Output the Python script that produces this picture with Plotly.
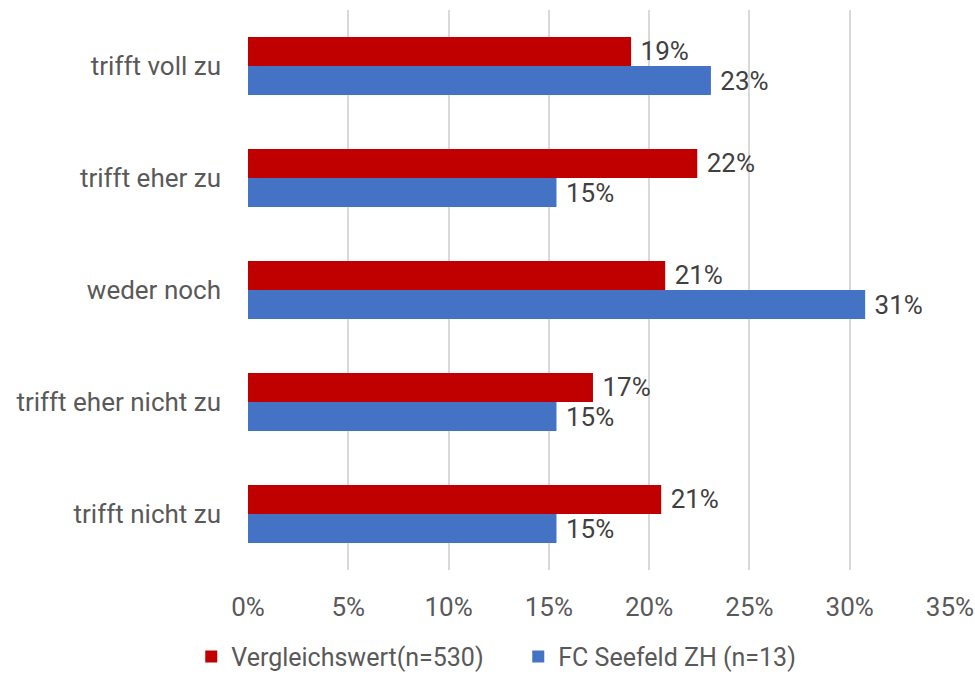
import plotly.graph_objects as go

categories = ["trifft voll zu", "trifft eher zu", "weder noch", "trifft eher nicht zu", "trifft nicht zu"]
vergleich = [0.191, 0.224, 0.208, 0.172, 0.206]
seefeld = [0.2308, 0.1538, 0.3077, 0.1538, 0.1538]
series_names = ["Vergleichswert(n=530)", "FC Seefeld ZH (n=13)"]
tick_vals = [0, 0.05, 0.10, 0.15, 0.20, 0.25, 0.30, 0.35]

FONT = "Roboto"
SIZE = 26
LABEL_TPL = "\u00a0%{x:.0%}"

fig = go.Figure()
for name, vals, color in [(series_names[0], vergleich, "#C00000"),
                          (series_names[1], seefeld, "#4472C4")]:
    fig.add_trace(go.Bar(
        y=categories, x=vals, name=name, orientation="h",
        marker=dict(color=color, line=dict(width=0)),
        text=vals, texttemplate=LABEL_TPL, textposition="outside",
        textfont=dict(color="#404040", size=SIZE, family=FONT),
        constraintext="none", cliponaxis=False,
    ))

fig.update_layout(
    width=975, height=677,
    margin=dict(l=248, r=25, t=10, b=107, autoexpand=False),
    paper_bgcolor="white", plot_bgcolor="white",
    barmode="group", bargap=0.48, bargroupgap=0,
    font=dict(family=FONT, size=SIZE, color="#595959"),
    legend=dict(orientation="h", x=0.385, xanchor="center", y=-0.114, yanchor="top",
                font=dict(size=25, color="#595959"), traceorder="normal",
                itemwidth=30, entrywidth=282, entrywidthmode="pixels"),
    showlegend=True,
)
fig.update_xaxes(
    range=[0, 0.35], tickvals=tick_vals, tickformat=".0%",
    showgrid=True, gridcolor="#D9D9D9", gridwidth=1.5,
    zeroline=False, showline=False, ticks="outside", ticklen=14, tickcolor="rgba(0,0,0,0)",
    tickfont=dict(size=SIZE, color="#595959"),
)
fig.update_yaxes(
    autorange="reversed", showgrid=False, showline=False, ticks="",
    ticklabelstandoff=26,
    tickfont=dict(size=SIZE, color="#595959"),
)

fig.write_html("out.html")
